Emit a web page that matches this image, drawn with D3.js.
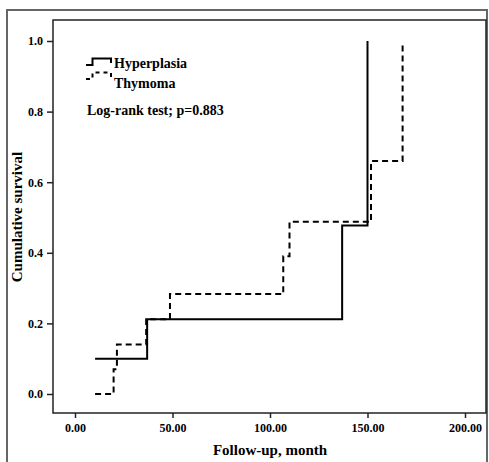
<!DOCTYPE html>
<html>
<head>
<meta charset="utf-8">
<script src="https://cdn.jsdelivr.net/npm/d3@7"></script>
<style>
  html, body { margin: 0; padding: 0; background: #fff; }
  svg { display: block; }
  text { font-family: "Liberation Serif", "Times New Roman", serif; font-weight: bold; fill: #000; }
</style>
</head>
<body>
<svg id="chart" width="489" height="462"></svg>
<script>
// ---- Data ----
const seriesNames = ["Hyperplasia", "Thymoma"];
const hyperplasiaTimes = [10.3, 37, 137, 150];
const hyperplasiaSurvival = [0.1, 0.212, 0.477, 1.0];
const thymomaTimes = [10.3, 19.8, 21.5, 36.5, 48.7, 106.8, 110, 151.8, 168];
const thymomaSurvival = [0.0, 0.07, 0.14, 0.212, 0.283, 0.39, 0.488, 0.66, 0.993];
const xTicks = [0, 50, 100, 150, 200];
const yTicks = [0.0, 0.2, 0.4, 0.6, 0.8, 1.0];
const xTitle = "Follow-up, month";
const yTitle = "Cumulative survival";
const annotation = "Log-rank test; p=0.883";

// ---- Layout ----
const svg = d3.select("#chart");
const frame = { left: 53, top: 20, right: 486, bottom: 413 };
const x = d3.scaleLinear().domain([0, 200]).range([75, 465]);
const y = d3.scaleLinear().domain([0, 1]).range([394, 41]);

// outer gray border
svg.append("path")
  .attr("d", "M7,462 V10 H487 V462")
  .attr("fill", "none").attr("stroke", "#666").attr("stroke-width", 2);

// inner plot frame
svg.append("rect")
  .attr("x", frame.left).attr("y", frame.top)
  .attr("width", frame.right - frame.left).attr("height", frame.bottom - frame.top)
  .attr("fill", "none").attr("stroke", "#222").attr("stroke-width", 1.5);

// axes
const xAxis = svg.append("g")
  .attr("transform", `translate(0,${frame.bottom})`)
  .call(d3.axisBottom(x).tickValues(xTicks).tickFormat(d3.format(".2f")).tickSize(5).tickPadding(5).tickSizeOuter(0));
const yAxis = svg.append("g")
  .attr("transform", `translate(${frame.left},0)`)
  .call(d3.axisLeft(y).tickValues(yTicks).tickFormat(d3.format(".1f")).tickSize(6).tickPadding(4).tickSizeOuter(0));
[xAxis, yAxis].forEach(a => {
  a.select(".domain").remove();
  a.selectAll(".tick line").attr("stroke", "#222").attr("stroke-width", 1.5);
  a.selectAll(".tick text").style("font-family", "'Liberation Serif', serif")
    .style("font-weight", "bold").style("font-size", "12px").attr("fill", "#000");
});

// axis titles
svg.append("text").attr("x", 270).attr("y", 455).attr("text-anchor", "middle")
  .style("font-size", "15px").text(xTitle);
svg.append("text").attr("transform", "translate(22,217) rotate(-90)").attr("text-anchor", "middle")
  .style("font-size", "15px").text(yTitle);

// survival step lines
const line = d3.line().x(d => x(d[0])).y(d => y(d[1])).curve(d3.curveStepAfter);
const hypData = hyperplasiaTimes.map((t, i) => [t, hyperplasiaSurvival[i]]);
const thyData = thymomaTimes.map((t, i) => [t, thymomaSurvival[i]]);

svg.append("path").datum(thyData).attr("d", line)
  .attr("fill", "none").attr("stroke", "#000").attr("stroke-width", 2)
  .attr("stroke-dasharray", "6,4");
svg.append("path").datum(hypData).attr("d", line)
  .attr("fill", "none").attr("stroke", "#000").attr("stroke-width", 2);

// legend
const legend = svg.append("g");
const sym = "M86,0 H92.5 V-6.5 H111 V-2";
legend.append("path").attr("d", sym).attr("transform", "translate(0,65)")
  .attr("fill", "none").attr("stroke", "#000").attr("stroke-width", 2);
legend.append("path").attr("d", sym).attr("transform", "translate(0,79)")
  .attr("fill", "none").attr("stroke", "#000").attr("stroke-width", 2).attr("stroke-dasharray", "4,4");
legend.append("text").attr("x", 114).attr("y", 67.5).style("font-size", "14px").text(seriesNames[0]);
legend.append("text").attr("x", 114).attr("y", 88).style("font-size", "14px").text(seriesNames[1]);

svg.append("text").attr("x", 87).attr("y", 115).style("font-size", "14px").text(annotation);
</script>
</body>
</html>
